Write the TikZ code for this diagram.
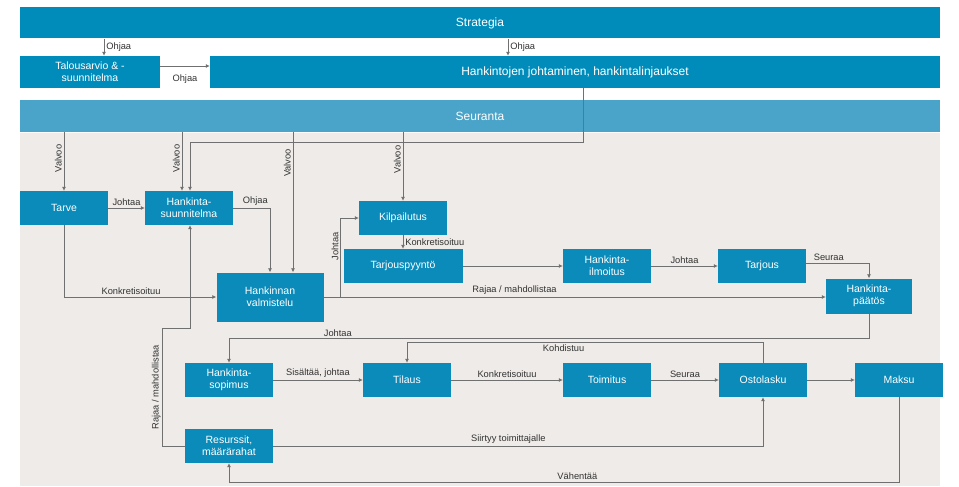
\documentclass[tikz,border=0pt]{standalone}
\usepackage{fontspec}
\setmainfont{Liberation Sans}
\usetikzlibrary{arrows.meta}
\definecolor{procblue}{HTML}{0A8BBA}
\definecolor{barblue}{HTML}{008CBA}
\definecolor{seurblue}{HTML}{4AA3C8}
\definecolor{bggray}{HTML}{EEEBE8}
\definecolor{linegray}{HTML}{707070}
\begin{document}
\begin{tikzpicture}[x=1pt,y=-1pt,
  bar/.style={fill=barblue,text=white,minimum height=31pt,inner sep=0pt,font=\fontsize{12}{14}\selectfont},
  proc/.style={fill=procblue,text=white,minimum width=88pt,minimum height=34pt,inner sep=1pt,align=center,font=\fontsize{10.5}{12}\selectfont},
  flow/.style={draw=linegray,line width=0.7pt,-{Latex[length=4pt,width=4pt]}},
  lbl/.style={font=\fontsize{9.3}{11}\selectfont,text=black!80,inner sep=2pt}]
\useasboundingbox (0,0) rectangle (959,487);
\fill[bggray] (20,133) rectangle (940,486);
% ylatason palkit
\node[bar,minimum width=920pt] (strategia) at (480,23) {Strategia};
\node[bar,minimum width=140pt,minimum height=32pt,align=center,font=\fontsize{10.5}{12}\selectfont] (talous) at (90,72) {Talousarvio \& -\\suunnitelma};
\node[bar,minimum width=730pt,minimum height=32pt] (johtaminen) at (575,72) {Hankintojen johtaminen, hankintalinjaukset};
\node[bar,fill=seurblue,minimum width=920pt,minimum height=32pt] (seuranta) at (480,116) {Seuranta};
% prosessin vaiheet
\node[proc] (tarve) at (64,208) {Tarve};
\node[proc] (suunnitelma) at (189,208) {Hankinta-\\suunnitelma};
\node[proc,minimum width=107pt,minimum height=49pt] (valmistelu) at (270,297) {Hankinnan\\valmistelu};
\node[proc] (kilpailutus) at (403,218) {Kilpailutus};
\node[proc,minimum width=119pt] (tarjouspyynto) at (403,266) {Tarjouspyyntö};
\node[proc] (ilmoitus) at (607,266) {Hankinta-\\ilmoitus};
\node[proc] (tarjous) at (762,266) {Tarjous};
\node[proc,minimum width=86pt,minimum height=35pt] (paatos) at (869,296) {Hankinta-\\päätös};
\node[proc] (sopimus) at (229,380) {Hankinta-\\sopimus};
\node[proc] (tilaus) at (407,380) {Tilaus};
\node[proc] (toimitus) at (607,380) {Toimitus};
\node[proc] (ostolasku) at (763,380) {Ostolasku};
\node[proc] (maksu) at (899,380) {Maksu};
\node[proc] (resurssit) at (229,446) {Resurssit,\\määrärahat};
% ohjaus
\draw[flow] ([xshift=14pt]talous.north |- strategia.south) -- ([xshift=14pt]talous.north) node[lbl,right,midway] {Ohjaa};
\draw[flow] ([xshift=-67pt]johtaminen.north |- strategia.south) -- ([xshift=-67pt]johtaminen.north) node[lbl,right,midway] {Ohjaa};
\draw[flow] ([yshift=6pt]talous.east) -- ([yshift=6pt]talous.east -| johtaminen.west) node[lbl,below=6pt,midway] {Ohjaa};
\draw[flow] ([xshift=8pt]johtaminen.south) -- ++(0,54) -| ([xshift=1pt]suunnitelma.north);
% valvonta
\draw[flow] (seuranta.south -| tarve.north) -- (tarve.north) node[lbl,rotate=90,anchor=south,pos=0.45] {Valvoo};
\draw[flow] ([xshift=-7pt]suunnitelma.north |- seuranta.south) -- ([xshift=-7pt]suunnitelma.north) node[lbl,rotate=90,anchor=south,pos=0.45] {Valvoo};
\draw[flow] ([xshift=23pt]valmistelu.north |- seuranta.south) -- ([xshift=23pt]valmistelu.north) node[lbl,rotate=90,anchor=south,pos=0.22] {Valvoo};
\draw[flow] (seuranta.south -| kilpailutus.north) -- (kilpailutus.north) node[lbl,rotate=90,anchor=south,pos=0.4] {Valvoo};
% valmistelu ja kilpailutus
\draw[flow] (tarve.east) -- (suunnitelma.west) node[lbl,above,midway] {Johtaa};
\draw[flow] (suunnitelma.east) -| (valmistelu.north) node[lbl,above,pos=0.3] {Ohjaa};
\draw[flow] (tarve.south) |- (valmistelu.west) node[lbl,above,pos=0.72] {Konkretisoituu};
\draw[flow] (valmistelu.east) -- (valmistelu.east -| paatos.west) node[lbl,above,pos=0.38] {Rajaa / mahdollistaa};
\draw[flow] ([xshift=17pt]valmistelu.east) |- (kilpailutus.west) node[lbl,rotate=90,anchor=south,pos=0.32] {Johtaa};
\draw[flow] (kilpailutus.south) -- (tarjouspyynto.north) node[lbl,right,midway] {Konkretisoituu};
\draw[flow] (tarjouspyynto.east) -- (ilmoitus.west);
\draw[flow] (ilmoitus.east) -- (tarjous.west) node[lbl,above,midway] {Johtaa};
\draw[flow] ([yshift=3pt]tarjous.east) -| (paatos.north) node[lbl,above,pos=0.18] {Seuraa};
% sopimus ja tilaaminen
\draw[flow] (paatos.south) -- ++(0,25) -| (sopimus.north) node[lbl,above,pos=0.415] {Johtaa};
\draw[flow] (ostolasku.north) -- ++(0,-20) -| (tilaus.north) node[lbl,below,pos=0.28] {Kohdistuu};
\draw[flow] (sopimus.east) -- (tilaus.west) node[lbl,above,midway] {Sisältää, johtaa};
\draw[flow] (tilaus.east) -- (toimitus.west) node[lbl,above,midway] {Konkretisoituu};
\draw[flow] (toimitus.east) -- (ostolasku.west) node[lbl,above,midway] {Seuraa};
\draw[flow] (ostolasku.east) -- (maksu.west);
\draw[flow] (maksu.south) -- ++(0,85) -| (resurssit.south) node[lbl,above,pos=0.24] {Vähentää};
\draw[flow] (resurssit.east) -| (ostolasku.south) node[lbl,above,pos=0.24] {Siirtyy toimittajalle};
\draw[flow] (resurssit.west) -- ++(-22,0) -- ++(0,-118) node[lbl,rotate=90,anchor=south,midway] {Rajaa / mahdollistaa} -| ([xshift=1pt]suunnitelma.south);
\end{tikzpicture}
\end{document}
